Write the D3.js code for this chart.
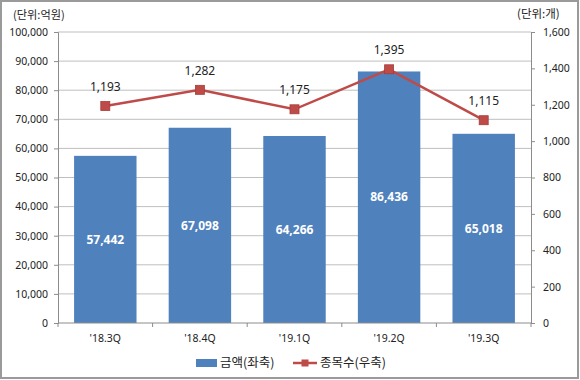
<!DOCTYPE html>
<html>
<head>
<meta charset="UTF-8">
<title>금액 / 종목수</title>
<script src="https://cdn.jsdelivr.net/npm/d3@7"></script>
<style>
    html, body { margin: 0; padding: 0; background: #fff; }
    svg { display: block; }
    text { font-family: "Noto Sans", "Noto Sans CJK KR", sans-serif; fill: #222; }
    .kr { font-family: "Noto Sans CJK KR", sans-serif; }
</style>
</head>
<body>
<svg id="svg" width="580" height="380"></svg>
<script>
    // data
    var quarters = ["'18.3Q", "'18.4Q", "'19.1Q", "'19.2Q", "'19.3Q"];
    var amounts = [57442, 67098, 64266, 86436, 65018];   // 금액 (억원), left axis
    var counts = [1193, 1282, 1175, 1395, 1115];          // 종목수 (개), right axis
    var leftTicks = [0, 10000, 20000, 30000, 40000, 50000, 60000, 70000, 80000, 90000, 100000];
    var rightTicks = [0, 200, 400, 600, 800, 1000, 1200, 1400, 1600];

    var blue = "#4f81bd";
    var red = "#be4b48";
    var fmt = d3.format(",");

    var svg = d3.select("#svg");

    // outer frame
    svg.append("rect")
        .attr("x", 1).attr("y", 1)
        .attr("width", 577).attr("height", 377)
        .attr("fill", "none")
        .attr("stroke", "#9a9a9a")
        .attr("stroke-width", 2);

    var plotLeft = 58, plotRight = 531, plotTop = 32, plotBottom = 323;

    var x = d3.scaleBand().domain(quarters).range([plotLeft, plotRight]).paddingInner(0.34).paddingOuter(0.17);
    var xPoint = function (q) { return x(q) + x.bandwidth() / 2; };
    var yL = d3.scaleLinear().domain([0, 100000]).range([plotBottom, plotTop]);
    var yR = d3.scaleLinear().domain([0, 1600]).range([plotBottom, plotTop]);

    // gridlines
    svg.append("g").selectAll("line")
        .data(leftTicks.slice(1))
        .enter().append("line")
        .attr("x1", plotLeft).attr("x2", plotRight)
        .attr("y1", function (d) { return yL(d); })
        .attr("y2", function (d) { return yL(d); })
        .attr("stroke", "#bfbfbf")
        .attr("stroke-width", 1);

    // bars
    svg.append("g").selectAll("rect")
        .data(amounts)
        .enter().append("rect")
        .attr("x", function (d, i) { return x(quarters[i]); })
        .attr("y", function (d) { return yL(d); })
        .attr("width", x.bandwidth())
        .attr("height", function (d) { return plotBottom - yL(d); })
        .attr("fill", blue);

    svg.append("g").selectAll("text")
        .data(amounts)
        .enter().append("text")
        .attr("x", function (d, i) { return xPoint(quarters[i]); })
        .attr("y", function (d) { return yL(d / 2); })
        .attr("dy", "0.35em")
        .attr("text-anchor", "middle")
        .style("font-size", "12px")
        .style("font-weight", "bold")
        .style("fill", "#fff")
        .text(function (d) { return fmt(d); });

    // axes
    var axisColor = "#8c8c8c";
    var gL = svg.append("g").attr("transform", "translate(" + plotLeft + ",0)")
        .call(d3.axisLeft(yL).tickValues(leftTicks).tickFormat(fmt).tickSize(4).tickPadding(6));
    var gR = svg.append("g").attr("transform", "translate(" + plotRight + ",0)")
        .call(d3.axisRight(yR).tickValues(rightTicks).tickFormat(fmt).tickSize(4).tickPadding(8));
    var gX = svg.append("g").attr("transform", "translate(0," + plotBottom + ")")
        .call(d3.axisBottom(x).tickSize(0).tickPadding(12));

    [gL, gR, gX].forEach(function (g) {
        g.select(".domain").attr("stroke", axisColor);
        g.selectAll(".tick line").attr("stroke", axisColor);
        g.selectAll("text").style("font-size", "10.5px").style("font-family", "'Noto Sans', sans-serif").attr("fill", "#222");
    });
    gX.select(".domain").attr("d", "M" + plotLeft + ",0H" + plotRight);

    // category separator ticks on x axis
    svg.append("g").selectAll("line")
        .data(d3.range(quarters.length + 1))
        .enter().append("line")
        .attr("x1", function (i) { return plotLeft + i * (plotRight - plotLeft) / quarters.length; })
        .attr("x2", function (i) { return plotLeft + i * (plotRight - plotLeft) / quarters.length; })
        .attr("y1", plotBottom).attr("y2", plotBottom + 4)
        .attr("stroke", axisColor);

    // line series
    var line = d3.line()
        .x(function (d, i) { return xPoint(quarters[i]); })
        .y(function (d) { return yR(d); });

    svg.append("path")
        .datum(counts)
        .attr("d", line)
        .attr("fill", "none")
        .attr("stroke", red)
        .attr("stroke-width", 2.5);

    svg.append("g").selectAll("rect")
        .data(counts)
        .enter().append("rect")
        .attr("x", function (d, i) { return xPoint(quarters[i]) - 4.5; })
        .attr("y", function (d) { return yR(d) - 4.5; })
        .attr("width", 9).attr("height", 9)
        .attr("fill", red)
        .attr("stroke", "#a63c3a")
        .attr("stroke-width", 0.8);

    svg.append("g").selectAll("text")
        .data(counts)
        .enter().append("text")
        .attr("x", function (d, i) { return xPoint(quarters[i]); })
        .attr("y", function (d) { return yR(d) - 15; })
        .attr("text-anchor", "middle")
        .style("font-size", "12px")
        .text(function (d) { return fmt(d); });

    // unit labels
    svg.append("text").attr("class", "kr")
        .attr("x", 13).attr("y", 19)
        .style("font-size", "11.2px")
        .text("(단위:억원)");
    svg.append("text").attr("class", "kr")
        .attr("x", 517).attr("y", 18)
        .style("font-size", "11.5px")
        .text("(단위:개)");

    // legend
    var lg = svg.append("g");
    lg.append("rect")
        .attr("x", 196).attr("y", 359)
        .attr("width", 21).attr("height", 8)
        .attr("fill", blue);
    lg.append("text").attr("class", "kr")
        .attr("x", 220).attr("y", 363).attr("dy", "0.35em")
        .style("font-size", "12.5px")
        .text("금액(좌축)");
    lg.append("line")
        .attr("x1", 293).attr("x2", 317)
        .attr("y1", 363).attr("y2", 363)
        .attr("stroke", red).attr("stroke-width", 2.5);
    lg.append("rect")
        .attr("x", 301.5).attr("y", 359.5)
        .attr("width", 7).attr("height", 7)
        .attr("fill", red);
    lg.append("text").attr("class", "kr")
        .attr("x", 320).attr("y", 363).attr("dy", "0.35em")
        .style("font-size", "12.5px")
        .text("종목수(우축)");
</script>
</body>
</html>
